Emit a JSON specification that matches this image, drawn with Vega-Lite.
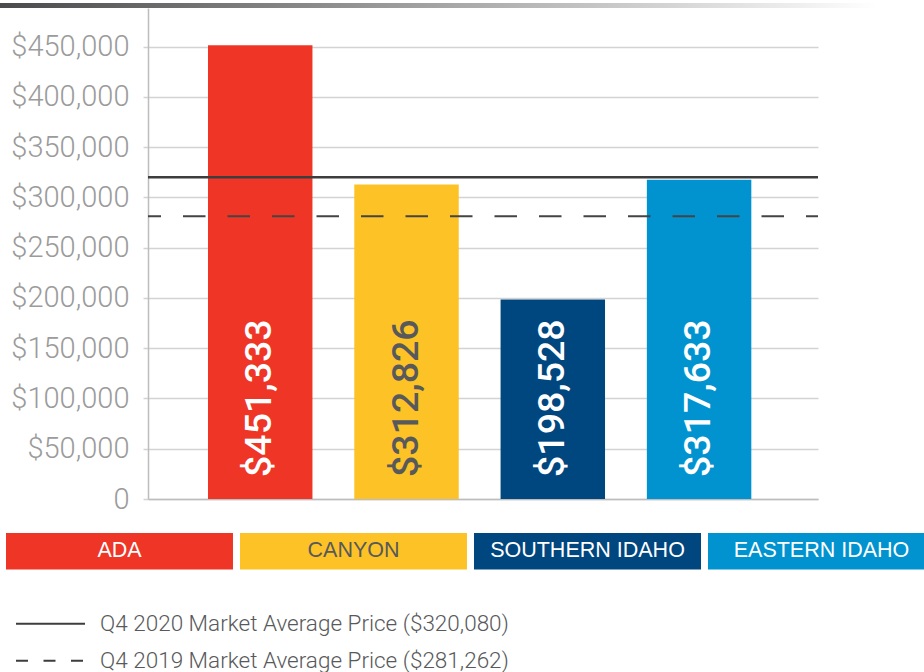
{
  "$schema": "https://vega.github.io/schema/vega-lite/v6.json",
  "padding": {"left": 0, "top": 3, "right": 0, "bottom": 0},
  "background": "white",
  "config": {"view": {"stroke": null}, "font": "Roboto"},
  "datasets": {
    "regions": [
      {"region": "ADA", "price": 451333, "label": "$451,333"},
      {"region": "CANYON", "price": 312826, "label": "$312,826"},
      {"region": "SOUTHERN IDAHO", "price": 198528, "label": "$198,528"},
      {"region": "EASTERN IDAHO", "price": 317633, "label": "$317,633"}
    ],
    "averages": [
      {"series": "Q4 2020 Market Average Price ($320,080)", "year": "2020", "price": 320080},
      {"series": "Q4 2019 Market Average Price ($281,262)", "year": "2019", "price": 281262}
    ],
    "banner": [{"item": "banner"}]
  },
  "spacing": 0,
  "vconcat": [
    {
      "data": {"name": "banner"},
      "width": 729,
      "height": 5,
      "mark": {
        "type": "rect",
        "fill": {
          "gradient": "linear", "x1": 0, "x2": 1, "y1": 0, "y2": 0,
          "stops": [{"offset": 0, "color": "#4a4a4c"}, {"offset": 1, "color": "#ffffff"}]
        }
      },
      "encoding": {
        "x": {"datum": 0, "type": "quantitative", "scale": {"domain": [0, 1], "range": [-148, 729]}, "axis": null},
        "x2": {"datum": 1}
      }
    },
    {
      "spacing": 19,
      "vconcat": [
        {
          "width": 670,
          "height": 491,
          "layer": [
            {
              "data": {"name": "regions"},
              "mark": {"type": "bar"},
              "encoding": {
                "x": {
                  "field": "region", "type": "nominal", "sort": null,
                  "scale": {"paddingInner": 0.286, "paddingOuter": 0.433, "align": 0.4736},
                  "axis": {"title": null, "labels": false, "ticks": false, "domain": true, "domainColor": "#bdbdbd", "domainWidth": 1.5, "grid": false}
                },
                "y": {
                  "field": "price", "type": "quantitative", "stack": null,
                  "scale": {"domain": [0, 488500], "nice": false},
                  "axis": {
                    "title": null,
                    "values": [0, 50000, 100000, 150000, 200000, 250000, 300000, 350000, 400000, 450000],
                    "labelExpr": "datum.value === 0 ? '0' : '$' + format(datum.value, ',')",
                    "labelFont": "Roboto", "labelFontWeight": 300, "labelFontSize": 29,
                    "labelColor": "#9b9b9b", "labelPadding": 14,
                    "tickSize": 5, "tickColor": "#d3d3d3", "tickWidth": 1.5,
                    "grid": true, "gridColor": "#d3d3d3", "gridWidth": 1.5,
                    "domainColor": "#bdbdbd", "domainWidth": 1.5
                  }
                },
                "color": {
                  "field": "region", "type": "nominal", "sort": null,
                  "scale": {"domain": ["ADA", "CANYON", "SOUTHERN IDAHO", "EASTERN IDAHO"], "range": ["#ef3526", "#fdc326", "#00467f", "#0093d0"]},
                  "legend": null
                }
              }
            },
            {
              "data": {"name": "averages"},
              "transform": [{"filter": "datum.year == '2020'"}],
              "mark": {"type": "rule", "color": "#3d3d3d", "strokeWidth": 2.6},
              "encoding": {"y": {"field": "price", "type": "quantitative"}}
            },
            {
              "data": {"name": "averages"},
              "transform": [{"filter": "datum.year == '2019'"}],
              "mark": {"type": "rule", "color": "#444444", "strokeWidth": 2, "strokeDash": [22.5, 22], "strokeDashOffset": 10.5},
              "encoding": {"y": {"field": "price", "type": "quantitative"}}
            },
            {
              "data": {"name": "regions"},
              "mark": {"type": "text", "angle": 270, "align": "left", "baseline": "middle", "dx": 22, "font": "Roboto", "fontWeight": 500, "fontSize": 37.5},
              "encoding": {
                "x": {"field": "region", "type": "nominal", "sort": null},
                "y": {"datum": 0},
                "text": {"field": "label"},
                "color": {"condition": {"test": "datum.region === 'CANYON'", "value": "#58595b"}, "value": "#ffffff"}
              }
            }
          ]
        },
        {
          "data": {"name": "regions"},
          "width": 787,
          "height": 36.6,
          "layer": [
            {
              "mark": {"type": "bar"},
              "encoding": {
                "x": {"field": "region", "type": "nominal", "sort": null, "scale": {"range": [-142, 787], "paddingInner": 0.03, "paddingOuter": 0}, "axis": null},
                "color": {
                  "field": "region", "type": "nominal", "sort": null,
                  "scale": {"domain": ["ADA", "CANYON", "SOUTHERN IDAHO", "EASTERN IDAHO"], "range": ["#ef3526", "#fdc326", "#00467f", "#0093d0"]},
                  "legend": null
                }
              }
            },
            {
              "mark": {"type": "text", "font": "Liberation Sans", "fontSize": 21.5, "baseline": "middle", "align": "center"},
              "encoding": {
                "x": {"field": "region", "type": "nominal", "sort": null},
                "text": {"field": "region"},
                "color": {"condition": {"test": "datum.region === 'CANYON'", "value": "#58595b"}, "value": "#ffffff"}
              }
            }
          ]
        },
        {
          "data": {"name": "averages"},
          "width": 400,
          "height": 106.5,
          "encoding": {
            "y": {
              "field": "series", "type": "nominal", "sort": null,
              "scale": {"domain": ["Q4 2020 Market Average Price ($320,080)", "Q4 2019 Market Average Price ($281,262)"], "padding": 0.883},
              "axis": null
            }
          },
          "layer": [
            {
              "transform": [{"filter": "datum.year == '2020'"}],
              "mark": {"type": "rule", "color": "#3d3d3d", "strokeWidth": 2},
              "encoding": {
                "x": {"datum": 0, "type": "quantitative", "scale": {"domain": [0, 1], "range": [-132, -63]}, "axis": null},
                "x2": {"datum": 1}
              }
            },
            {
              "transform": [{"filter": "datum.year == '2019'"}],
              "mark": {"type": "rule", "color": "#3d3d3d", "strokeWidth": 2, "strokeDash": [12, 15.5]},
              "encoding": {
                "x": {"datum": 0, "type": "quantitative"},
                "x2": {"datum": 1}
              }
            },
            {
              "mark": {"type": "text", "align": "left", "baseline": "middle", "dx": 15, "font": "Roboto", "fontWeight": 300, "fontSize": 22.5, "color": "#58595b"},
              "encoding": {
                "x": {"datum": 1, "type": "quantitative"},
                "text": {"field": "series"}
              }
            }
          ]
        }
      ]
    }
  ]
}
